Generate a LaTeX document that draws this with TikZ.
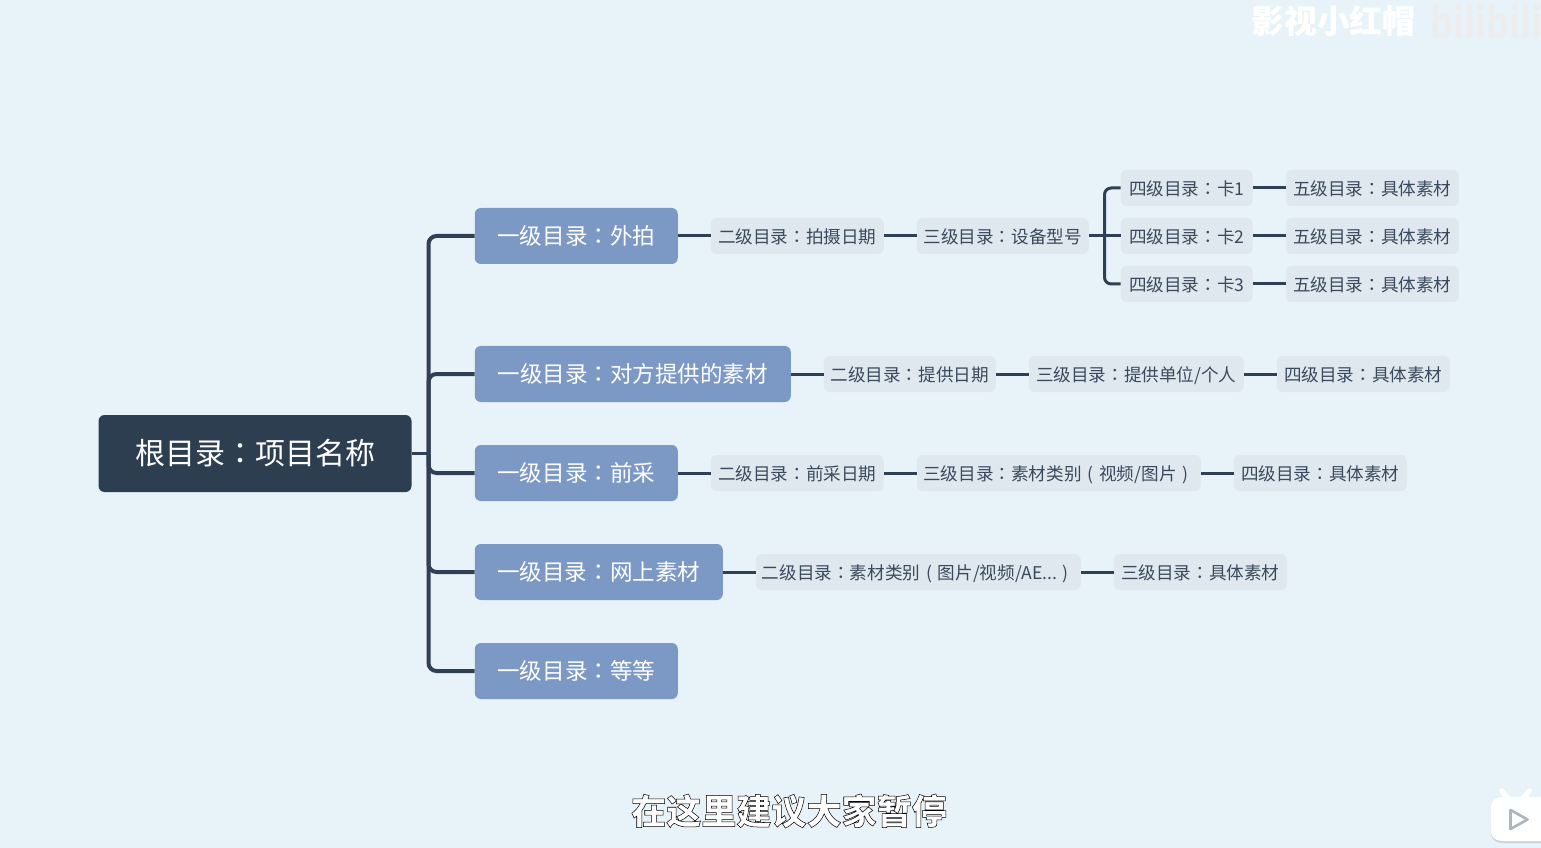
\documentclass[tikz,border=0pt]{standalone}
\usepackage{fontspec}
\usepackage{graphicx}
\setmainfont{Noto Sans CJK SC}
\newfontfamily\tcfont{Noto Sans CJK TC}
\newfontfamily\latfont{Open Sans}
\newcommand{\cln}{{\tcfont ：}}
\newcommand{\lpar}{\makebox[1em]{(}}
\newcommand{\rpar}{\makebox[1em]{)}}
\definecolor{bgblue}{HTML}{E8F3F9}
\definecolor{rootblue}{HTML}{2C3E50}
\definecolor{lineblue}{HTML}{2F4054}
\definecolor{onefill}{HTML}{7C99C5}
\definecolor{subfill}{HTML}{DFE7EF}
\definecolor{subtext}{HTML}{3A4A5C}
\tikzset{
  rootbox/.style = {fill=rootblue, text=white, rounded corners=4.5pt, inner sep=0pt,
                    minimum width=234.75pt, minimum height=57.75pt, font=\fontsize{22.5}{26}\selectfont},
  onebox/.style = {fill=onefill, text=white, rounded corners=4.5pt, inner sep=0pt, anchor=west,
                   minimum width=#1*0.75pt, minimum height=42pt, font=\fontsize{16.9}{20}\selectfont},
  subbox/.style = {fill=subfill, text=subtext, rounded corners=4.5pt, inner sep=0pt, anchor=west,
                   text height=12pt, text depth=0.5pt,
                   minimum width=#1*0.75pt, minimum height=27pt, font=\fontsize{13.2}{16}\selectfont},
  trunk/.style = {draw=lineblue, line width=3pt, rounded corners=6pt},
  twig/.style = {draw=lineblue, line width=2.25pt, rounded corners=5pt}
}
\begin{document}
\begin{tikzpicture}[x=0.75pt,y=-0.75pt]
	\def \rowa{236}
	\def \rowb{374}
	\def \rowc{473}
	\def \rowd{572}
	\def \rowe{671}

	\fill[bgblue] (0.5,0) rectangle (1541.5,848);
	\useasboundingbox (0.5,0) rectangle (1541.5,848);

	% Root and first level
	\node[rootbox] (root) at (255.5,453.5) {根目录\cln 项目名称};
	\node[onebox=203] (shoot) at (475,\rowa) {一级目录\cln 外拍};
	\node[onebox=316] (given) at (475,\rowb) {一级目录\cln 对方提供的素材};
	\node[onebox=203] (early) at (475,\rowc) {一级目录\cln 前采};
	\node[onebox=248] (web) at (475,\rowd) {一级目录\cln 网上素材};
	\node[onebox=203] (etc) at (475,\rowe) {一级目录\cln 等等};

	% Row 1
	\node[subbox=173] (shootdate) at (711,\rowa) {二级目录\cln 拍摄日期};
	\node[subbox=172] (device) at (917,\rowa) {三级目录\cln 设备型号};
	\node[subbox=132] (carda) at (1121,188) {四级目录\cln 卡1};
	\node[subbox=132] (cardb) at (1121,236) {四级目录\cln 卡2};
	\node[subbox=132] (cardc) at (1121,284) {四级目录\cln 卡3};
	\node[subbox=173] (stuffa) at (1286,188) {五级目录\cln 具体素材};
	\node[subbox=173] (stuffb) at (1286,236) {五级目录\cln 具体素材};
	\node[subbox=173] (stuffc) at (1286,284) {五级目录\cln 具体素材};

	% Row 2
	\node[subbox=172] (givendate) at (824,\rowb) {二级目录\cln 提供日期};
	\node[subbox=215] (giver) at (1029,\rowb) {三级目录\cln 提供单位/个人};
	\node[subbox=173] (givenstuff) at (1277,\rowb) {四级目录\cln 具体素材};

	% Row 3
	\node[subbox=173] (earlydate) at (711,\rowc) {二级目录\cln 前采日期};
	\node[subbox=284] (earlykind) at (917,\rowc) {三级目录\cln 素材类别\lpar 视频/图片\rpar};
	\node[subbox=173] (earlystuff) at (1234,\rowc) {四级目录\cln 具体素材};

	% Row 4
	\node[subbox=325] (webkind) at (756,\rowd) {二级目录\cln 素材类别\lpar 图片/视频/AE...\rpar};
	\node[subbox=173] (webstuff) at (1114,\rowd) {三级目录\cln 具体素材};

	% Spine
	\coordinate (spine) at (429,453.5);
	\coordinate (fork) at (1105,236);
	\draw[draw=lineblue, line width=2.25pt] (root.east) -- (spine);
	\draw[trunk] (spine) |- (shoot.west);
	\draw[trunk] (spine) |- (given.west);
	\draw[trunk] (spine) |- (early.west);
	\draw[trunk] (spine) |- (web.west);
	\draw[trunk] (spine) |- (etc.west);

	% Links
	\draw[twig] (shoot.east) -- (shootdate.west);
	\draw[twig] (shootdate.east) -- (device.west);
	\draw[twig] (device.east) -- (cardb.west);
	\draw[twig] (fork) |- (carda.west);
	\draw[twig] (fork) |- (cardc.west);
	\draw[twig] (carda.east) -- (stuffa.west);
	\draw[twig] (cardb.east) -- (stuffb.west);
	\draw[twig] (cardc.east) -- (stuffc.west);
	\draw[twig] (given.east) -- (givendate.west);
	\draw[twig] (givendate.east) -- (giver.west);
	\draw[twig] (giver.east) -- (givenstuff.west);
	\draw[twig] (early.east) -- (earlydate.west);
	\draw[twig] (earlydate.east) -- (earlykind.west);
	\draw[twig] (earlykind.east) -- (earlystuff.west);
	\draw[twig] (web.east) -- (webkind.west);
	\draw[twig] (webkind.east) -- (webstuff.west);

	% Video overlay
	\node[text=white, font=\fontsize{24.5}{28}\selectfont\bfseries, inner sep=0pt] (mark) at (1334,21) {影视小红帽};
	\node[text=black!7!white, inner sep=0pt, anchor=west] (logo) at (1431,22)
		{\scalebox{2.7}[3.4]{\latfont\bfseries bilibili}};
	\node[inner sep=0pt, font=\fontsize{26.3}{30}\selectfont\bfseries] (caption) at (789.5,811)
		{\special{pdf:code q 2 Tr 0.38 w 0 0 0 RG 1 1 1 rg}在这里建议大家暂停\special{pdf:code Q}};

	% Player icon
	\fill[white] (1505,800) -- (1499,790) -- (1503,788) -- (1511,797) -- (1521,797) -- (1529,788) -- (1533,790) -- (1527,800) -- cycle;
	\fill[black!25!white, opacity=0.6] (1491,812) .. controls (1491,801) and (1496,798) .. (1505,798) -- (1545,798) -- (1545,843) -- (1505,843) .. controls (1496,843) and (1491,840) .. (1491,830) -- cycle;
	\fill[white!98!bgblue] (1491,811) .. controls (1491,800) and (1496,797) .. (1505,797) -- (1545,797) -- (1545,841) -- (1505,841) .. controls (1496,841) and (1491,838) .. (1491,828) -- cycle;
	\draw[black!25!bgblue, line width=2pt, line join=round] (1511,810) -- (1528,819.5) -- (1511,829) -- cycle;
\end{tikzpicture}
\end{document}
